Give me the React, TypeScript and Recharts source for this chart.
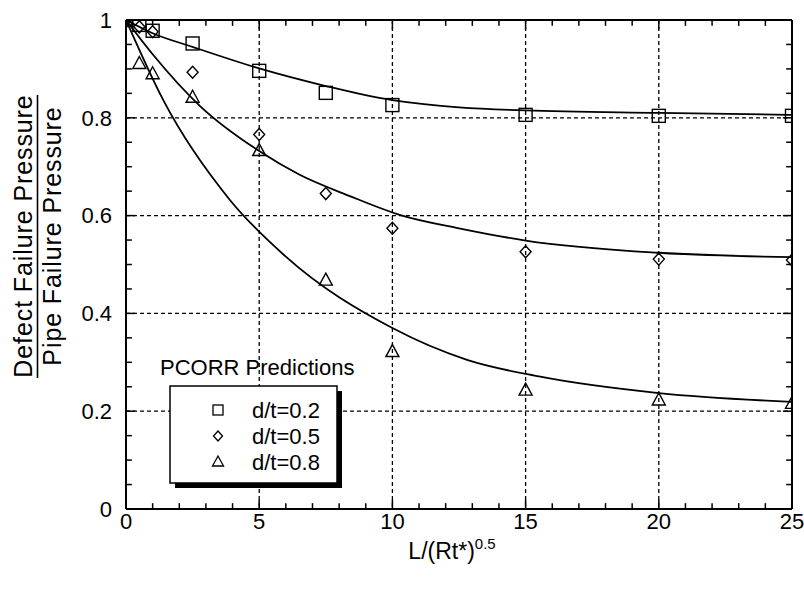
import React from "react";
import {
  ComposedChart,
  Line,
  Scatter,
  XAxis,
  YAxis,
  CartesianGrid,
  ReferenceLine,
} from "recharts";

// PCORR predictions (markers)
const sqX = [0, 0.5, 1, 2.5, 5, 7.5, 10, 15, 20, 25];
const sqY = [1, 0.99, 0.978, 0.952, 0.896, 0.851, 0.826, 0.806, 0.804, 0.804];
const diaX = [0, 0.5, 1, 2.5, 5, 7.5, 10, 15, 20, 25];
const diaY = [1, 0.986, 0.976, 0.893, 0.766, 0.645, 0.574, 0.526, 0.511, 0.509];
const triX = [0, 0.5, 1, 2.5, 5, 7.5, 10, 15, 20, 25];
const triY = [1, 0.911, 0.89, 0.842, 0.733, 0.468, 0.322, 0.243, 0.223, 0.216];

// solid curves
const c2X = [0, 1, 2.5, 5, 7.5, 10, 15, 20, 25];
const c2Y = [1, 0.973, 0.945, 0.901, 0.865, 0.836, 0.815, 0.81, 0.806];
const c5X = [0, 1, 2.8, 5, 6.5, 8.4, 10.3, 12.5, 15, 20, 25];
const c5Y = [1, 0.93, 0.823, 0.732, 0.684, 0.64, 0.601, 0.574, 0.549, 0.524, 0.515];
const c8X = [0, 1.4, 3.9, 6, 10, 12.8, 15.5, 20, 25];
const c8Y = [1, 0.836, 0.632, 0.516, 0.37, 0.305, 0.271, 0.237, 0.219];

const xTicks = [0, 5, 10, 15, 20, 25];
const yTicks = [0, 0.2, 0.4, 0.6, 0.8, 1];
const xMajorIn = [5, 10, 15, 20];
const yMajorIn = [0.2, 0.4, 0.6, 0.8];
const xMinor = [1, 2, 3, 4, 6, 7, 8, 9, 11, 12, 13, 14, 16, 17, 18, 19, 21, 22, 23, 24];
const yMinor = [0.05, 0.1, 0.15, 0.25, 0.3, 0.35, 0.45, 0.5, 0.55, 0.65, 0.7, 0.75, 0.85, 0.9, 0.95];

const legendLabels = ["d/t=0.2", "d/t=0.5", "d/t=0.8"];

const zip = (xs: number[], ys: number[]) => xs.map((x, i) => ({ x, y: ys[i] }));

const FONT = "'Liberation Sans', Arial, sans-serif";

const Square = (p: any) => (
  <rect x={p.cx - 6.5} y={p.cy - 6.5} width={13} height={13} fill="none" stroke="#000" strokeWidth={1.4} />
);
const Diamond = (p: any) => (
  <polygon
    points={`${p.cx},${p.cy - 6} ${p.cx + 5.5},${p.cy} ${p.cx},${p.cy + 6} ${p.cx - 5.5},${p.cy}`}
    fill="none"
    stroke="#000"
    strokeWidth={1.4}
  />
);
const Triangle = (p: any) => (
  <polygon
    points={`${p.cx},${p.cy - 7} ${p.cx + 6.5},${p.cy + 5} ${p.cx - 6.5},${p.cy + 5}`}
    fill="none"
    stroke="#000"
    strokeWidth={1.4}
  />
);

export default function App() {
  const tickSeg = (pts: [number, number][], key: string, w = 1.5) => (
    <ReferenceLine
      key={key}
      segment={[{ x: pts[0][0], y: pts[0][1] }, { x: pts[1][0], y: pts[1][1] }]}
      stroke="#000"
      strokeWidth={w}
    />
  );
  const ticks: React.ReactNode[] = [];
  xMinor.forEach((v) => {
    ticks.push(tickSeg([[v, 0], [v, 0.012]], "xb" + v));
    ticks.push(tickSeg([[v, 1], [v, 0.988]], "xt" + v));
  });
  xMajorIn.forEach((v) => {
    ticks.push(tickSeg([[v, 0], [v, 0.019]], "xbm" + v));
    ticks.push(tickSeg([[v, 1], [v, 0.981]], "xtm" + v));
  });
  yMinor.forEach((v) => {
    ticks.push(tickSeg([[0, v], [0.22, v]], "yl" + v));
    ticks.push(tickSeg([[25, v], [24.78, v]], "yr" + v));
  });
  yMajorIn.forEach((v) => {
    ticks.push(tickSeg([[0, v], [0.34, v]], "ylm" + v));
    ticks.push(tickSeg([[25, v], [24.66, v]], "yrm" + v));
  });

  return (
    <div style={{ position: "absolute", left: 0, top: 0, width: 804, height: 591, background: "#fff" }}>
      <ComposedChart width={804} height={591} margin={{ top: 20, right: 12, left: 0, bottom: 0 }}>
        <CartesianGrid stroke="#000" strokeDasharray="4 3" strokeWidth={1.3} />
        <XAxis
          type="number"
          dataKey="x"
          domain={[0, 25]}
          ticks={xTicks}
          height={82}
          tickLine={false}
          tickSize={0}
          tickMargin={4}
          axisLine={false}
          tick={{ fontSize: 22, fill: "#000", fontFamily: FONT }}
          allowDataOverflow
        />
        <YAxis
          type="number"
          domain={[0, 1]}
          ticks={yTicks}
          width={126}
          tickLine={false}
          tickSize={0}
          tickMargin={14}
          axisLine={false}
          tick={{ fontSize: 22, fill: "#000", fontFamily: FONT }}
          allowDataOverflow
        />
        {ticks}
        <ReferenceLine y={0} stroke="#000" strokeWidth={2} />
        <ReferenceLine y={1} stroke="#000" strokeWidth={2} />
        <ReferenceLine x={0} stroke="#000" strokeWidth={2} />
        <ReferenceLine x={25} stroke="#000" strokeWidth={2} />
        <Line data={zip(c2X, c2Y)} dataKey="y" type="monotone" stroke="#000" strokeWidth={1.8} dot={false} isAnimationActive={false} />
        <Line data={zip(c5X, c5Y)} dataKey="y" type="monotone" stroke="#000" strokeWidth={1.8} dot={false} isAnimationActive={false} />
        <Line data={zip(c8X, c8Y)} dataKey="y" type="monotone" stroke="#000" strokeWidth={1.8} dot={false} isAnimationActive={false} />
        <Scatter data={zip(sqX, sqY)} dataKey="y" shape={Square} isAnimationActive={false} />
        <Scatter data={zip(diaX, diaY)} dataKey="y" shape={Diamond} isAnimationActive={false} />
        <Scatter data={zip(triX, triY)} dataKey="y" shape={Triangle} isAnimationActive={false} />
      </ComposedChart>
      <svg
        width={804}
        height={591}
        style={{ position: "absolute", left: 0, top: 0, pointerEvents: "none" }}
        fontFamily={FONT}
      >
        {/* y-axis title as a fraction */}
        <text transform="rotate(-90)" x={-236} y={32} textAnchor="middle" fontSize={25} letterSpacing={0.9} fill="#000">
          Defect Failure Pressure
        </text>
        <line x1={37.5} y1={95} x2={37.5} y2={378} stroke="#000" strokeWidth={1.6} />
        <text transform="rotate(-90)" x={-236} y={61} textAnchor="middle" fontSize={25} letterSpacing={0.9} fill="#000">
          Pipe Failure Pressure
        </text>
        {/* x-axis title */}
        <text x={452} y={559} textAnchor="middle" fontSize={23} fill="#000">
          L/(Rt*)
          <tspan dy={-10} fontSize={15}>0.5</tspan>
        </text>
        {/* legend */}
        <text x={160} y={375} fontSize={22} fill="#000">PCORR Predictions</text>
        <rect x={175} y={391} width={167} height={97} fill="#000" />
        <rect x={170} y={386} width={167} height={97} fill="#fff" stroke="#000" strokeWidth={1.5} />
        <rect x={213} y={405} width={10} height={10} fill="none" stroke="#000" strokeWidth={1.3} />
        <polygon points="218,431 222.5,436 218,441 213.5,436" fill="none" stroke="#000" strokeWidth={1.3} />
        <polygon points="218,456 223.5,466 212.5,466" fill="none" stroke="#000" strokeWidth={1.3} />
        {legendLabels.map((l, i) => (
          <text key={l} x={252} y={418 + i * 26} fontSize={22} fill="#000">
            {l}
          </text>
        ))}
      </svg>
    </div>
  );
}
